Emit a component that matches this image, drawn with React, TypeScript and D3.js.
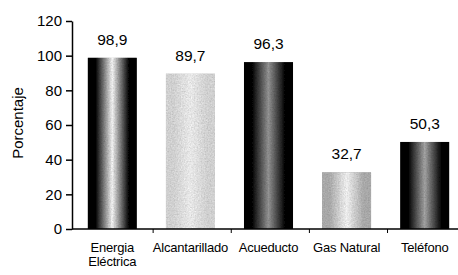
import React, { useEffect, useRef } from 'react';
import * as d3 from 'd3';

const categories = ['Energia Eléctrica', 'Alcantarillado', 'Acueducto', 'Gas Natural', 'Teléfono'];
const values = [98.9, 89.7, 96.3, 32.7, 50.3];
const valueLabels = ['98,9', '89,7', '96,3', '32,7', '50,3'];
const yTicks = [0, 20, 40, 60, 80, 100, 120];

// edge colour, centre colour for each bar's shading
const barShades = [
    ['#000', '#f0f0f0'],
    ['#d0d0d0', '#e8e8e8'],
    ['#000', '#909090'],
    ['#a8a8a8', '#eeeeee'],
    ['#000', '#a0a0a0'],
];

const App = () => {
    const svgRef = useRef<SVGSVGElement>(null);

    useEffect(() => {
        const width = 458;
        const height = 275;
        const left = 72;
        const top = 21;
        const bottom = 229;

        const svg = d3.select(svgRef.current)
            .attr('width', width)
            .attr('height', height)
            .style('font-family', 'Arial, "Liberation Sans", sans-serif');

        svg.selectAll('*').remove();

        const defs = svg.append('defs');
        barShades.forEach((s, i) => {
            const g = defs.append('linearGradient')
                .attr('id', `shade${i}`)
                .attr('x1', '0%').attr('x2', '100%')
                .attr('y1', '0%').attr('y2', '0%');
            g.append('stop').attr('offset', '0%').attr('stop-color', s[0]);
            g.append('stop').attr('offset', '16%').attr('stop-color', s[0]);
            g.append('stop').attr('offset', '50%').attr('stop-color', s[1]);
            g.append('stop').attr('offset', '84%').attr('stop-color', s[0]);
            g.append('stop').attr('offset', '100%').attr('stop-color', s[0]);
        });

        // speckle, like the scanned dither in the original (multiplied so black stays black)
        const f = defs.append('filter').attr('id', 'grain')
            .attr('x', 0).attr('y', 0).attr('width', 1).attr('height', 1);
        f.append('feTurbulence')
            .attr('type', 'fractalNoise')
            .attr('baseFrequency', 0.7)
            .attr('numOctaves', 2)
            .attr('seed', 3)
            .attr('result', 'noise');
        f.append('feColorMatrix')
            .attr('in', 'noise')
            .attr('type', 'matrix')
            .attr('values', '0.33 0.33 0.33 0 0  0.33 0.33 0.33 0 0  0.33 0.33 0.33 0 0  0 0 0 0 1')
            .attr('result', 'grey');
        f.append('feComposite')
            .attr('in', 'SourceGraphic')
            .attr('in2', 'grey')
            .attr('operator', 'arithmetic')
            .attr('k1', 0.9).attr('k2', 0.55).attr('k3', 0).attr('k4', 0)
            .attr('result', 'mix');
        f.append('feComposite')
            .attr('in', 'mix')
            .attr('in2', 'SourceGraphic')
            .attr('operator', 'in');

        const x = d3.scaleBand()
            .domain(categories)
            .range([left, left + 5 * 78.6])
            .paddingInner(0.37)
            .paddingOuter(0.2);

        const y = d3.scaleLinear()
            .domain([0, 120])
            .range([bottom, top]);

        svg.selectAll('.bar')
            .data(values)
            .join('rect')
            .attr('class', 'bar')
            .attr('x', (d, i) => x(categories[i])!)
            .attr('y', d => y(d))
            .attr('width', x.bandwidth())
            .attr('height', d => bottom - y(d))
            .attr('fill', (d, i) => `url(#shade${i})`)
            .attr('filter', 'url(#grain)');

        // y axis
        const yAxis = svg.append('g')
            .attr('transform', `translate(${left},0)`)
            .call(d3.axisLeft(y).tickValues(yTicks).tickSize(6).tickSizeOuter(0));
        yAxis.select('.domain').attr('stroke', '#000').attr('stroke-width', 1.5);
        yAxis.selectAll('.tick line').attr('stroke-width', 1.5);
        yAxis.selectAll('.tick text')
            .attr('x', -10)
            .style('font-size', '15px')
            .style('font-family', 'Arial, "Liberation Sans", sans-serif')
            .attr('fill', '#000');

        // x axis line with ticks between categories
        svg.append('line')
            .attr('x1', left).attr('x2', width)
            .attr('y1', bottom).attr('y2', bottom)
            .attr('stroke', '#000').attr('stroke-width', 1.5);
        const step = x.step();
        svg.selectAll('.xtick')
            .data(d3.range(1, categories.length))
            .join('line')
            .attr('x1', i => left + i * step + 3)
            .attr('x2', i => left + i * step + 3)
            .attr('y1', bottom).attr('y2', bottom + 4)
            .attr('stroke', '#000');

        // value labels
        svg.selectAll('.val')
            .data(values)
            .join('text')
            .attr('x', (d, i) => x(categories[i])! + x.bandwidth() / 2)
            .attr('y', d => y(d) - 13)
            .attr('text-anchor', 'middle')
            .style('font-size', '15.5px')
            .text((d, i) => valueLabels[i]);

        // category labels
        const cat = svg.selectAll('.cat')
            .data(categories)
            .join('text')
            .attr('x', d => x(d)! + x.bandwidth() / 2)
            .attr('y', bottom + 23)
            .attr('text-anchor', 'middle')
            .style('font-size', '13px')
            .style('letter-spacing', '-0.2px');
        cat.each(function (d) {
            const words = d === 'Energia Eléctrica' ? ['Energia', 'Eléctrica'] : [d];
            d3.select(this).selectAll('tspan')
                .data(words)
                .join('tspan')
                .attr('x', x(d)! + x.bandwidth() / 2)
                .attr('dy', (w, j) => (j === 0 ? 0 : 14))
                .text(w => w);
        });

        svg.append('text')
            .attr('transform', 'rotate(-90)')
            .attr('x', -(top + bottom) / 2 + 2)
            .attr('y', 23)
            .attr('text-anchor', 'middle')
            .style('font-size', '15px')
            .text('Porcentaje');
    }, []);

    return <svg ref={svgRef} style={{ position: 'absolute', left: 0, top: 0 }}></svg>;
};

export default App;
